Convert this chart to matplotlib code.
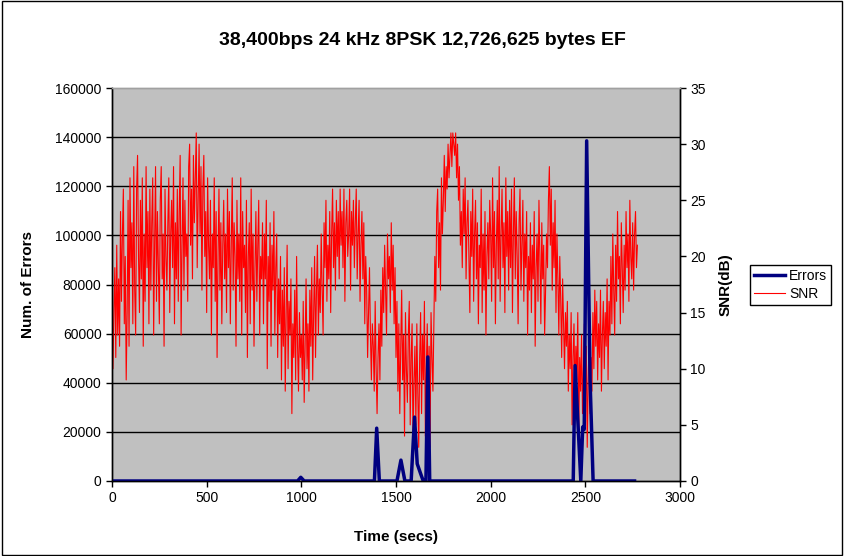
import matplotlib
matplotlib.use("Agg")
import matplotlib.pyplot as plt
from matplotlib.patches import Rectangle
import numpy as np

plt.rcParams["font.family"] = ["Liberation Sans", "DejaVu Sans"]

TITLE = "38,400bps 24 kHz 8PSK 12,726,625 bytes EF"

# Errors (sparse: zero apart from a few bursts)
err_t = [0, 980, 997, 1015, 1386, 1398, 1412, 1505, 1526, 1547,
         1580, 1598, 1612, 1630, 1644, 1658, 1668, 1678,
         2436, 2446, 2476, 2486, 2494, 2507, 2525, 2541, 2760]
err_v = [0, 0, 1500, 0, 0, 21500, 0, 0, 8500, 0,
         0, 26000, 7000, 3000, 0, 0, 50500, 0,
         0, 47000, 0, 22000, 21000, 138500, 41000, 0, 0]

# SNR (dB), one reading every 5 s from 0 s, one row per 100 s
snr_step = 5
snr_db = [
    17, 10, 15, 19, 11, 21, 13, 18, 12, 24, 16, 22, 26, 14, 20, 9, 15, 25, 12, 27,
    19, 23, 14, 28, 17, 13, 26, 29, 20, 15, 25, 18, 27, 12, 22, 16, 28, 19, 24, 14,
    26, 17, 23, 27, 13, 21, 28, 16, 24, 19, 14, 25, 28, 18, 22, 12, 26, 20, 17, 23,
    27, 15, 22, 25, 19, 28, 14, 23, 18, 26, 16, 24, 29, 13, 21, 27, 17, 25, 20, 22,
    16, 28, 30, 21, 26, 18, 29, 23, 27, 31, 19, 25, 30, 22, 28, 17, 26, 29, 20, 24,
    15, 27, 21, 18, 25, 13, 22, 19, 27, 16, 24, 11, 20, 26, 17, 23, 14, 21, 25, 18,
    22, 15, 26, 19, 24, 14, 21, 27, 17, 23, 20, 12, 25, 18, 22, 16, 27, 13, 24, 19,
    21, 15, 25, 11, 20, 23, 14, 26, 17, 22, 12, 19, 24, 16, 21, 25, 13, 20, 18, 23,
    14, 22, 18, 25, 10, 20, 16, 23, 12, 21, 17, 24, 13, 19, 22, 11, 18, 14, 20, 9,
    17, 12, 19, 8, 15, 21, 10, 16, 13, 18, 6, 14, 11, 17, 9, 20, 12, 8, 15, 11,
    13, 9, 16, 7, 12, 18, 10, 14, 8, 17, 12, 19, 9, 15, 20, 11, 17, 21, 13, 18,
    15, 22, 17, 13, 23, 19, 25, 16, 21, 18, 24, 15, 22, 26, 19, 23, 17, 25, 20, 24,
    18, 26, 21, 24, 19, 26, 16, 23, 25, 20, 22, 26, 17, 24, 21, 25, 19, 23, 26, 18,
    22, 25, 16, 21, 24, 18, 23, 14, 20, 17, 11, 15, 19, 13, 9, 14, 12, 8, 16, 10,
    6, 11, 14, 9, 17, 12, 19, 15, 21, 17, 13, 22, 18, 20, 15, 23, 17, 21, 14, 19,
    11, 16, 8, 14, 6, 12, 17, 9, 13, 4, 15, 10, 7, 13, 16, 5, 11, 14, 3, 9,
    12, 5, 14, 8, 3, 11, 15, 6, 13, 9, 16, 4, 10, 14, 7, 12, 3, 15, 11, 8,
    14, 20, 16, 24, 26, 19, 23, 17, 27, 22, 25, 29, 24, 28, 26, 30, 27, 29, 31, 28,
    31, 30, 29, 31, 27, 30, 25, 28, 21, 24, 19, 26, 22, 27, 18, 23, 25, 20, 15, 24,
    20, 26, 16, 22, 25, 18, 23, 14, 21, 19, 26, 15, 22, 17, 24, 13, 20, 23, 18, 25,
    22, 16, 27, 19, 24, 14, 21, 25, 18, 28, 16, 22, 26, 19, 23, 15, 27, 20, 24, 17,
    25, 19, 26, 15, 22, 27, 18, 24, 20, 14, 23, 26, 17, 21, 25, 16, 22, 19, 24, 13,
    20, 17, 23, 15, 21, 18, 24, 12, 19, 22, 16, 25, 20, 14, 23, 18, 21, 13, 17, 22,
    19, 25, 28, 21, 26, 17, 23, 19, 25, 15, 22, 18, 13, 20, 16, 11, 18, 14, 10, 15,
    12, 16, 8, 13, 10, 15, 5, 11, 14, 7, 12, 9, 15, 4, 11, 8, 13, 6, 10, 14,
    7, 12, 3, 9, 13, 6, 11, 8, 15, 10, 17, 12, 16, 9, 14, 11, 17, 8, 13, 16,
    10, 15, 12, 18, 9, 16, 13, 20, 14, 22, 17, 13, 21, 16, 24, 18, 20, 14, 23, 19,
    15, 21, 17, 24, 19, 22, 16, 25, 20, 18, 23, 17, 22, 24, 19, 21,
]
snr_t = np.arange(len(snr_db)) * snr_step

err_ticks = list(range(0, 160001, 20000))
snr_ticks = list(range(0, 36, 5))
time_ticks = list(range(0, 3001, 500))

fig = plt.figure(figsize=(8.44, 5.56), dpi=100)
ax = fig.add_axes([0.1327, 0.1349, 0.673, 0.7068])
ax2 = ax.twinx()

# errors axis drawn on top, SNR axis (with grey plot area) behind
ax.set_zorder(ax2.get_zorder() + 1)
ax.patch.set_visible(False)
ax2.patch.set_visible(True)
ax2.patch.set_facecolor("#C0C0C0")

for v in err_ticks[1:-1]:
    ax2.axhline(v / err_ticks[-1] * snr_ticks[-1], color="black", lw=1, zorder=0)

ax2.plot(snr_t, snr_db, color="#FF0000", lw=0.8, label="SNR")
ax.plot(err_t, err_v, color="#000080", lw=2.5, label="Errors")

ax.set_xlim(0, 3000)
ax.set_ylim(0, 160000)
ax2.set_ylim(0, 35)
ax.set_xticks(time_ticks)
ax.set_yticks(err_ticks)
ax2.set_yticks(snr_ticks)

for a in (ax, ax2):
    a.tick_params(direction="out", length=4, width=1, labelsize=10, colors="black")
    for s in a.spines.values():
        s.set_color("black")
        s.set_linewidth(1)
    a.spines["top"].set_color("#A0A0A0")

ax.set_xlabel("Time (secs)", fontsize=11, fontweight="bold")
ax.set_ylabel("Num. of Errors", fontsize=11, fontweight="bold")
ax2.set_ylabel("SNR(dB)", fontsize=11, fontweight="bold")
ax.xaxis.set_label_coords(0.5, -0.125)
ax.yaxis.set_label_coords(-0.135, 0.5)
ax2.yaxis.set_label_coords(1.068, 0.5)

fig.text(0.5, 0.928, TITLE, ha="center", va="center", fontsize=14, fontweight="bold")

h1, l1 = ax.get_legend_handles_labels()
h2, l2 = ax2.get_legend_handles_labels()
leg = fig.legend(h1 + h2, l1 + l2, loc="center left",
                 bbox_to_anchor=(750 / 844, 1 - 285 / 556),
                 fontsize=10, frameon=True, fancybox=False, framealpha=1,
                 edgecolor="black", borderpad=0.3, handlelength=2.2,
                 handletextpad=0.3, labelspacing=0.3, borderaxespad=0)
leg.get_frame().set_linewidth(1)

fig.patches.append(Rectangle((0.002, 0.002), 0.996, 0.996, transform=fig.transFigure,
                             fill=False, edgecolor="black", lw=1))

fig.savefig("out.png", dpi=100)
